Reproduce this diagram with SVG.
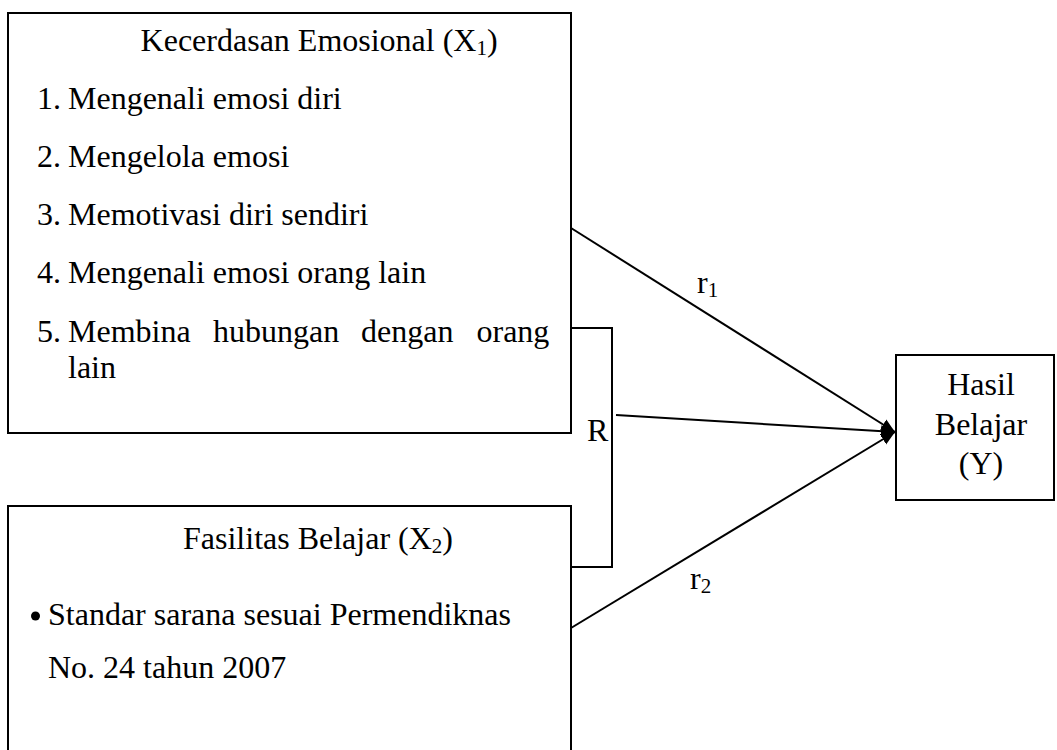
<svg xmlns="http://www.w3.org/2000/svg" width="1057" height="750" viewBox="0 0 1057 750">
  <style>
    .box { fill: #ffffff; stroke: #000000; stroke-width: 2; }
    .t { font-family: "Liberation Serif", "Times New Roman", serif; font-size: 32px; fill: #000000; }
    .c { text-anchor: middle; }
    .ln { fill: none; stroke: #000000; stroke-width: 2; }
  </style>
  <defs>
    <marker id="arr" markerUnits="userSpaceOnUse" markerWidth="16" markerHeight="14" refX="14" refY="7" orient="auto">
      <path d="M0,1 L14,7 L0,13 Z" fill="#000000"/>
    </marker>
  </defs>
  <rect width="1057" height="750" fill="#ffffff"/>

  <g id="node-x1">
    <rect class="box" x="8" y="13" width="563" height="420"/>
    <text class="t" x="140.6" y="51">Kecerdasan Emosional (X<tspan font-size="21" dy="4">1</tspan><tspan dy="-4">)</tspan></text>
    <text class="t" x="37" y="109">1.</text>
    <text class="t" x="68" y="109">Mengenali emosi diri</text>
    <text class="t" x="37" y="167">2.</text>
    <text class="t" x="68" y="167">Mengelola emosi</text>
    <text class="t" x="37" y="225">3.</text>
    <text class="t" x="68" y="225">Memotivasi diri sendiri</text>
    <text class="t" x="37" y="283">4.</text>
    <text class="t" x="68" y="283">Mengenali emosi orang lain</text>
    <text class="t" x="37" y="342">5.</text>
    <text class="t" x="68" y="342">Membina</text>
    <text class="t" x="213" y="342">hubungan</text>
    <text class="t" x="361" y="342">dengan</text>
    <text class="t" x="476.5" y="342">orang</text>
    <text class="t" x="68" y="378">lain</text>
  </g>

  <g id="node-x2">
    <rect class="box" x="8" y="506" width="563" height="260"/>
    <text class="t" x="183" y="549">Fasilitas Belajar (X<tspan font-size="21" dy="4">2</tspan><tspan dy="-4">)</tspan></text>
    <circle cx="35.5" cy="616" r="4.5" fill="#000000"/>
    <text class="t" x="48" y="625">Standar sarana sesuai Permendiknas</text>
    <text class="t" x="48" y="678">No. 24 tahun 2007</text>
  </g>

  <g id="node-y">
    <rect class="box" x="896" y="355" width="158" height="145"/>
    <text class="t c" x="981" y="395">Hasil</text>
    <text class="t c" x="981" y="435">Belajar</text>
    <text class="t c" x="981" y="474">(Y)</text>
  </g>

  <g id="connectors">
    <line class="ln" x1="571" y1="228" x2="895" y2="432" marker-end="url(#arr)"/>
    <line class="ln" x1="616" y1="415" x2="895" y2="432" marker-end="url(#arr)"/>
    <line class="ln" x1="571" y1="628" x2="895" y2="432" marker-end="url(#arr)"/>
    <path class="ln" d="M571,328 H612 V567 H571"/>
    <text class="t" x="697" y="293">r<tspan font-size="21" dy="4">1</tspan></text>
    <text class="t" x="690" y="589">r<tspan font-size="21" dy="4">2</tspan></text>
    <text class="t" x="587" y="441">R</text>
  </g>
</svg>
